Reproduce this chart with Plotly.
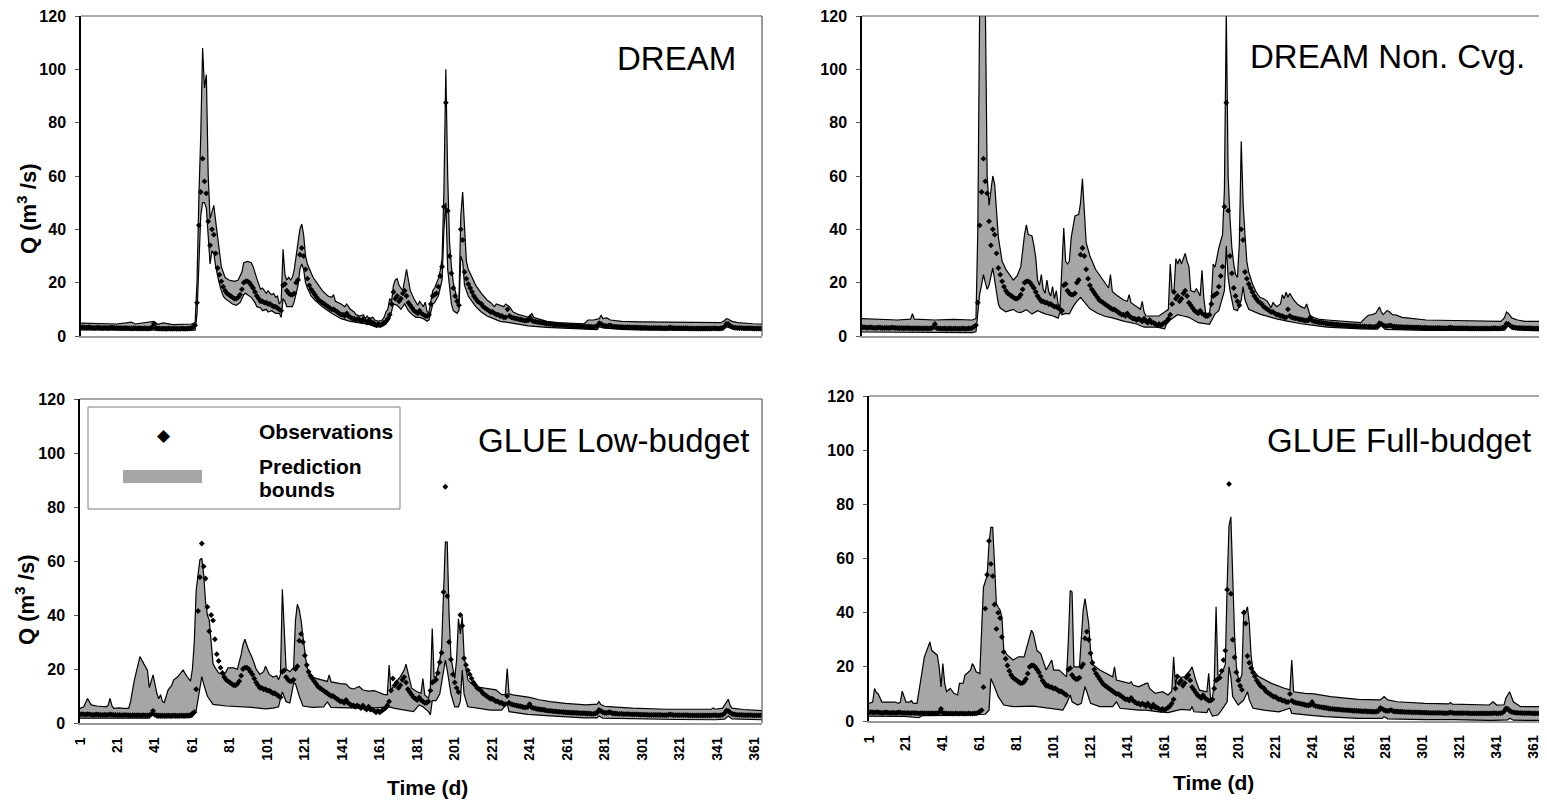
import plotly.graph_objects as go

# ---------------- data ----------------
obs_q = [
    3.2, 3.3, 3.2, 3.1, 3.3, 3.2, 3.1, 3.0, 3.1, 3.2, 3.1, 3.0, 3.0, 3.1, 3.0, 3.0, 3.2, 3.1, 3.0, 3.0,
    2.9, 3.0, 2.9, 2.9, 3.0, 2.9, 2.9, 2.8, 2.9, 2.9, 2.8, 2.9, 2.8, 2.8, 2.9, 2.8, 2.8, 2.9, 3.2, 4.5,
    3.0, 2.8, 2.8, 2.7, 2.8, 2.7, 2.7, 2.8, 2.7, 2.7, 2.8, 2.7, 2.7, 2.7, 2.8, 2.7, 2.7, 2.8, 2.8, 3.0,
    3.5, 4.0, 12.5, 41.5, 54.0, 66.5, 58.0, 53.5, 43.0, 34.0, 40.0, 38.0, 31.0, 25.5, 23.0, 20.5, 18.5, 17.0, 16.0, 15.5,
    15.0, 14.5, 14.0, 14.0, 14.5, 15.5, 17.5, 20.0, 20.5, 20.5, 20.0, 19.0, 18.0, 16.5, 15.0, 14.0, 13.0, 13.0, 12.5, 12.5,
    12.0, 12.0, 11.5, 11.0, 11.0, 10.5, 10.0, 9.5, 19.0, 19.5, 17.0, 16.0, 15.5, 15.5, 16.0, 20.0, 21.0, 30.5, 33.0, 30.0,
    25.0, 21.5, 19.0, 17.5, 16.5, 15.5, 14.5, 13.5, 13.0, 12.5, 12.0, 11.5, 11.0, 10.5, 10.0, 10.0, 9.5, 9.0, 8.5, 8.0,
    8.0, 7.5, 8.5, 7.5, 7.0, 6.5, 6.5, 6.0, 6.5, 6.0, 5.5, 6.5, 5.5, 5.0, 6.0, 5.0, 5.0, 4.5, 4.0, 4.5,
    4.0, 4.5, 5.0, 5.5, 6.5, 8.0, 12.0, 16.5, 14.0, 15.0, 13.0, 14.0, 16.0, 17.0, 15.0, 12.5, 11.5, 10.5, 9.5, 9.0,
    8.5, 9.5, 8.5, 8.0, 7.5, 7.5, 8.0, 12.0, 15.0, 15.5, 16.0, 18.5, 22.5, 26.0, 48.5, 87.5, 47.0, 30.0, 23.5, 18.0,
    15.0, 13.0, 11.5, 40.0, 36.0, 24.0, 21.5, 19.5, 18.0, 16.5, 15.0, 14.0, 13.0, 12.5, 12.0, 11.0, 10.5, 10.0, 9.5, 9.0,
    9.0, 8.5, 8.0, 8.0, 7.5, 7.5, 7.0, 7.0, 10.0, 7.5, 7.0, 6.8, 6.6, 6.5, 6.3, 6.2, 6.0, 5.8, 5.8, 5.9,
    7.0, 5.8, 5.5, 5.4, 5.2, 5.1, 5.0, 4.9, 4.8, 4.6, 4.5, 4.5, 4.4, 4.3, 4.3, 4.2, 4.1, 4.1, 4.0, 4.0,
    3.9, 3.9, 3.8, 3.8, 3.8, 3.7, 3.7, 3.6, 3.6, 3.6, 3.5, 3.5, 3.5, 3.4, 3.4, 3.5, 3.8, 4.8, 4.5, 4.0,
    3.8, 3.7, 3.9, 4.0, 3.6, 3.5, 3.5, 3.4, 3.4, 3.4, 3.3, 3.3, 3.3, 3.3, 3.2, 3.2, 3.2, 3.2, 3.2, 3.1,
    3.1, 3.1, 3.1, 3.0, 3.0, 3.0, 3.0, 3.0, 3.0, 3.0, 3.0, 2.9, 2.9, 2.9, 3.0, 3.2, 3.0, 2.9, 2.9, 2.9,
    2.9, 2.9, 2.9, 2.9, 2.9, 2.8, 2.8, 2.8, 2.8, 2.8, 2.8, 2.8, 2.8, 2.8, 2.8, 2.8, 2.8, 2.8, 2.9, 2.9,
    2.8, 2.8, 2.9, 3.0, 3.6, 4.6, 4.5, 3.8, 3.4, 3.2, 3.1, 3.0, 3.0, 3.0, 2.9, 2.9, 2.9, 2.9, 2.9, 2.8,
    2.8, 2.8, 2.8, 2.8, 2.8,
]
obs_day = list(range(1, len(obs_q) + 1))

# prediction bounds, (day, Q) vertices
dream_upper = [
    (1, 4.8), (10, 4.6), (20, 4.5), (25, 4.9), (28, 5.2), (30, 4.5), (40, 5.5), (42, 4.4), (45, 4.9), (50, 4.3),
    (60, 4.5), (62, 5.0), (63, 20), (64, 52), (65, 75), (66, 108), (67, 93), (68, 98), (69, 60), (70, 44),
    (71, 47), (72, 49), (73, 43), (74, 37), (75, 31), (76, 26), (77, 24), (78, 22), (80, 21), (83, 20.5),
    (85, 21), (87, 24), (88, 27.5), (90, 28), (92, 27.5), (93, 26), (95, 21.5), (96, 19), (97, 17.5), (98, 18),
    (99, 17), (100, 16), (101, 17), (102, 16), (103, 15.5), (104, 16), (105, 14.5), (106, 15), (107, 12), (108, 13),
    (109, 32.5), (110, 23), (111, 21), (112, 22), (113, 21), (114, 22), (115, 25), (116, 31), (117, 35), (118, 40),
    (119, 42), (120, 38), (121, 30), (122, 27), (123, 25.5), (124, 24), (125, 22), (127, 20), (130, 17), (133, 15),
    (135, 14.5), (136, 15.5), (137, 13), (140, 12), (142, 11), (143, 12), (145, 10), (147, 9), (148, 8), (150, 7.5),
    (152, 8), (153, 6.5), (154, 7.5), (155, 6.5), (157, 7), (158, 6), (160, 5.5), (162, 6), (163, 7), (164, 9),
    (165, 10), (166, 14), (167, 13), (168, 19), (169, 21), (170, 21.5), (171, 19), (172, 18), (173, 17), (174, 21),
    (175, 25), (176, 21), (177, 17), (179, 14), (181, 11.5), (182, 13), (183, 12), (184, 11), (185, 12.7), (186, 9),
    (187, 9), (188, 13), (189, 17), (190, 18), (191, 19.5), (192, 21.5), (193, 24.5), (194, 29), (195, 55), (196, 100),
    (197, 60), (198, 35), (199, 26), (200, 20), (201, 17), (202, 14), (203, 13), (204, 45), (205, 54), (206, 38),
    (207, 28), (208, 25), (210, 22), (212, 19), (215, 16), (218, 13.5), (220, 12.5), (222, 11), (223, 12), (225, 11.5),
    (227, 11), (228, 12), (230, 11), (232, 9), (235, 8), (238, 7.5), (240, 7), (242, 8.4), (243, 7), (245, 6.5),
    (250, 5.5), (255, 5), (260, 4.8), (265, 4.7), (270, 4.6), (272, 6), (275, 6), (278, 6.5), (279, 7.7), (280, 6.5),
    (282, 6.8), (284, 6), (290, 5.5), (300, 5.3), (310, 5.2), (320, 5.2), (330, 5), (340, 5), (343, 5), (345, 5.8),
    (346, 6.5), (347, 6.3), (349, 5.5), (352, 5), (355, 4.8), (360, 4.6), (365, 4.5),
]
dream_lower = [
    (1, 2.3), (20, 2.2), (40, 2.1), (60, 2.0), (62, 2.2), (63, 8), (64, 30), (65, 45), (66, 50), (67, 50),
    (68, 48), (69, 35), (70, 27), (71, 32), (72, 31), (73, 26), (74, 22), (75, 19.5), (76, 17), (77, 15),
    (78, 14), (80, 13), (82, 12), (84, 11.5), (86, 12.5), (88, 15.5), (89, 16), (90, 15.5), (92, 14.5), (94, 12.5),
    (95, 11), (97, 10.5), (98, 9.5), (100, 10), (101, 9), (103, 9.5), (105, 8.5), (107, 8.5), (108, 7), (109, 14),
    (110, 13), (111, 11), (114, 11), (115, 13), (116, 16), (117, 19), (118, 25), (119, 27), (120, 25), (121, 20),
    (122, 18), (124, 15), (126, 13.5), (130, 11), (135, 8.5), (140, 6.5), (145, 5.5), (150, 5), (155, 4.3), (158, 3.5),
    (160, 3.4), (162, 3.6), (164, 4.5), (166, 6.5), (167, 9), (168, 12), (170, 11.5), (172, 10), (174, 12), (176, 9.5),
    (178, 8), (180, 7), (182, 7), (184, 6.5), (186, 5.5), (187, 6), (188, 9), (189, 12), (190, 12.5), (192, 15),
    (193, 18), (194, 21), (195, 40), (196, 50), (197, 25), (198, 17), (199, 12), (200, 9.5), (201, 9), (202, 8.5),
    (203, 9.5), (204, 30), (205, 28), (206, 19), (207, 17), (208, 15), (210, 13), (212, 11), (215, 9), (218, 7.5),
    (220, 7), (222, 6.5), (225, 5.5), (230, 5), (235, 4.5), (240, 3.8), (250, 3.2), (260, 2.8), (270, 2.5), (277, 2.4),
    (278, 3.5), (280, 3), (290, 2.5), (300, 2.3), (320, 2.2), (340, 2.1), (344, 2.3), (346, 3.5), (348, 3), (350, 2.5),
    (365, 2.2),
]
noncvg_upper = [
    (1, 6.5), (10, 6.3), (20, 6.0), (27, 6.3), (28, 8.4), (29, 6.3), (40, 6.0), (50, 6.2), (60, 6.0), (62, 6.5),
    (63, 40), (64, 125), (65, 160), (66, 160), (67, 125), (68, 60), (69, 49), (70, 55), (71, 60), (72, 57),
    (73, 45), (74, 37), (76, 28), (78, 25), (80, 23), (82, 21), (84, 22.5), (86, 26), (88, 38), (89, 41.7),
    (90, 38), (92, 37.5), (93, 34), (94, 29.5), (95, 21), (96, 19), (97, 23), (98, 17.5), (99, 16), (100, 21),
    (101, 16.5), (102, 15), (103, 18.5), (104, 14), (105, 17), (106, 12), (107, 11), (108, 28), (109, 40.5), (110, 28),
    (111, 27), (112, 28), (113, 37), (114, 41), (115, 45), (117, 45.5), (118, 50), (119, 59), (120, 45), (121, 35),
    (123, 30), (126, 25), (130, 21), (133, 18), (134, 23), (135, 16.7), (137, 15.5), (139, 14.5), (141, 13.5), (143, 13),
    (144, 15.5), (145, 12.5), (148, 11), (150, 10), (151, 13), (152, 9), (153, 7.5), (158, 7.5), (160, 7.5), (163, 9),
    (165, 10), (166, 27), (167, 16.7), (168, 17), (169, 29), (170, 27), (171, 29), (172, 27), (174, 31), (175, 28),
    (176, 26), (177, 17), (179, 16.5), (180, 17.8), (182, 15), (183, 24.6), (184, 14), (185, 8.5), (187, 8.5), (188, 14),
    (189, 27), (190, 25.8), (192, 33), (194, 38), (195, 55), (196, 122), (197, 60), (198, 44), (199, 33), (200, 27),
    (201, 23), (202, 22), (203, 35), (204, 73), (205, 50), (206, 38), (207, 28), (208, 24), (210, 19.5), (212, 16.5),
    (214, 14.5), (216, 14), (218, 13), (220, 10.6), (221, 12.5), (223, 11), (225, 12), (226, 15.5), (227, 14), (228, 16.4),
    (229, 14.5), (230, 16), (232, 13.6), (234, 12), (236, 11), (238, 10.4), (239, 12), (241, 7.4), (243, 7), (246, 6.2),
    (250, 6), (257, 5.6), (265, 5.2), (268, 5), (270, 6.5), (272, 7.8), (274, 8), (276, 8.5), (278, 10.9), (279, 9),
    (280, 8), (282, 9.5), (283, 9.3), (285, 8), (287, 7.8), (290, 7), (295, 6.6), (303, 6), (310, 5.9), (320, 5.8),
    (330, 5.6), (339, 5.5), (343, 5.5), (345, 7), (346, 9), (347, 8.5), (349, 6.7), (352, 6), (356, 5.5), (365, 5.5),
]
noncvg_lower = [
    (1, 1.5), (20, 1.4), (40, 1.3), (60, 1.3), (62, 1.6), (63, 8), (64, 15.8), (65, 19), (66, 23), (67, 20),
    (68, 17.5), (69, 19), (70, 22), (71, 25.5), (72, 21), (73, 17), (74, 12), (75, 10.5), (78, 9.1), (80, 9.5),
    (82, 10), (84, 9), (86, 8.8), (89, 9.9), (92, 8.2), (95, 9.5), (99, 8.3), (103, 7.6), (106, 6.7), (107, 9),
    (108, 8), (110, 8.5), (112, 8.3), (114, 11), (116, 13), (118, 14.5), (120, 12.6), (123, 10.2), (127, 8.5), (131, 7.4),
    (135, 6.8), (141, 5.6), (148, 4.5), (152, 3.3), (159, 3.3), (163, 2.7), (164, 4.5), (166, 6), (168, 7), (170, 8),
    (173, 7.5), (176, 7), (181, 5), (185, 4.5), (187, 4.4), (190, 8.3), (192, 9.5), (195, 17), (196, 33.7), (197, 22),
    (198, 17), (200, 10), (202, 9.5), (204, 13.5), (205, 18.5), (206, 13.6), (208, 10), (214, 8.2), (223, 6.4), (228, 5.7),
    (236, 4.6), (243, 4), (250, 3.3), (268, 2.7), (277, 2.6), (279, 4), (281, 2.5), (304, 2.1), (340, 2.0), (345, 2.2),
    (347, 4.0), (349, 2.6), (356, 2.1), (365, 2.0),
]
glue_low_upper = [
    (1, 5.4), (3, 6), (5, 9.1), (7, 6.7), (10, 6.3), (12, 6.2), (15, 6.0), (16, 6.5), (17, 9.1), (18, 6.5),
    (19, 5.4), (22, 5.6), (24, 5.4), (27, 5.4), (28, 8), (30, 15.9), (33, 24.6), (35, 22), (37, 19.6), (38, 13.1),
    (40, 17.8), (42, 11), (43, 9), (44, 10.5), (45, 8), (46, 7.6), (48, 12.2), (50, 14), (51, 16), (53, 17),
    (55, 19), (56, 19.6), (57, 18.5), (58, 17.3), (60, 15.5), (61, 20), (62, 30), (63, 49), (64, 55), (65, 60.4),
    (66, 61), (67, 55), (68, 45), (69, 40), (70, 38), (71, 30), (72, 22), (73, 20.6), (75, 18.5), (78, 17.9),
    (80, 20.4), (83, 20.4), (85, 19.9), (87, 25.3), (88, 29), (89, 31), (91, 27), (93, 24), (95, 20), (97, 18),
    (99, 19), (100, 21), (102, 18), (104, 17), (106, 17.5), (107, 16), (108, 18), (109, 49.5), (110, 35), (111, 20),
    (113, 19), (115, 20.5), (116, 38), (117, 44), (118, 42), (119, 38), (120, 32), (121, 26), (122, 21), (123, 19),
    (124, 18), (126, 16.7), (130, 15.8), (133, 15.4), (134, 17.8), (135, 15.2), (140, 14.6), (143, 14.4), (145, 13), (147, 12.6),
    (150, 13.5), (152, 12.2), (155, 11.8), (158, 12), (160, 11.5), (163, 10.6), (165, 10.4), (166, 21.5), (167, 12), (169, 14.6),
    (172, 17.2), (174, 19.6), (175, 21.8), (176, 18.5), (178, 12.9), (181, 11.6), (183, 11), (184, 16.5), (185, 10.4), (187, 9.1),
    (188, 13), (189, 35), (190, 17), (191, 17), (193, 23), (194, 28), (195, 48), (196, 67), (197, 67), (198, 40),
    (199, 24), (201, 16.5), (202, 23.5), (203, 38.6), (204, 33), (205, 39.5), (206, 25), (207, 19.6), (208, 16), (210, 14.5),
    (212, 13.5), (217, 12.9), (223, 12.3), (226, 10.5), (228, 10.5), (229, 20.2), (230, 10.8), (232, 10.4), (236, 10), (241, 9.5),
    (246, 8.6), (252, 7.9), (260, 7.3), (271, 6.7), (277, 7), (278, 7.9), (279, 6.8), (281, 6.2), (285, 6), (296, 5.5),
    (314, 5.1), (332, 5.1), (338, 5.1), (339, 5.6), (340, 5.1), (344, 5.5), (346, 7.5), (347, 8.8), (348, 6.5), (349, 5.5),
    (355, 5), (365, 4.6),
]
glue_low_lower = [
    (1, 1.8), (20, 1.8), (38, 1.8), (40, 3.5), (42, 1.9), (60, 2.0), (61, 2.3), (63, 4.5), (64, 8.5), (66, 17.2),
    (67, 14.4), (69, 9.9), (72, 6.9), (79, 6.3), (93, 5.8), (100, 5.2), (104, 5.5), (107, 6), (108, 9), (109, 11.5),
    (111, 7.9), (113, 7.4), (115, 14.7), (116, 14.5), (118, 10), (120, 6.3), (125, 5.8), (131, 6), (133, 7.8), (135, 5.8),
    (155, 5.4), (165, 5.8), (166, 6), (169, 5.4), (174, 4.8), (179, 4.2), (182, 6.7), (184, 6), (187, 4.2), (188, 3),
    (189, 8.3), (191, 8.3), (193, 10.7), (195, 19.6), (196, 23.3), (197, 19.6), (199, 10.7), (201, 6), (203, 6), (204, 8),
    (205, 19.6), (206, 10.7), (208, 6), (214, 5.4), (220, 4.8), (226, 4.8), (229, 7.2), (230, 4.2), (235, 3.6), (240, 3.2),
    (250, 2.7), (260, 2.3), (270, 1.9), (277, 1.9), (278, 2.6), (280, 1.8), (300, 1.5), (320, 1.3), (340, 1.2), (345, 1.4),
    (347, 2.6), (349, 1.5), (365, 1.2),
]
glue_full_upper = [
    (1, 6.5), (3, 7), (4, 12), (5, 10.5), (6, 10), (8, 7), (15, 7), (17, 6.5), (18, 7), (19, 11),
    (20, 9), (21, 7), (23, 7), (24, 7.5), (25, 6.5), (27, 6.5), (29, 15), (31, 23.7), (34, 29.2), (35, 26),
    (38, 24.3), (39, 20), (40, 12.6), (41, 21.2), (42, 13.9), (43, 10.8), (45, 12), (47, 10.2), (49, 9.6), (50, 13.9),
    (52, 14), (53, 17), (56, 18.8), (57, 21.2), (58, 20), (59, 18.2), (61, 17.5), (62, 37.2), (63, 49.4), (65, 53.7),
    (66, 65.4), (67, 71.5), (68, 71.5), (69, 58), (70, 43.3), (71, 42), (72, 41), (73, 38.4), (74, 26), (76, 24.3),
    (79, 22.5), (82, 23.7), (85, 23.7), (87, 28.6), (89, 33.5), (90, 32.3), (92, 26), (94, 24.9), (97, 18.8), (100, 22.5),
    (101, 18.8), (104, 18.8), (106, 17.5), (108, 16.3), (109, 30), (110, 48.2), (111, 47.6), (112, 20), (115, 20), (116, 30),
    (117, 40.9), (118, 45.2), (120, 36), (121, 26), (122, 21), (126, 18.8), (133, 16.3), (134, 20), (135, 15.1), (142, 13.9),
    (143, 14.5), (144, 13.3), (147, 12.6), (151, 13.9), (152, 14), (153, 12), (156, 10.2), (160, 10.8), (163, 9.6), (165, 11),
    (166, 23.7), (167, 13), (168, 17), (170, 16), (172, 16.4), (175, 18.8), (176, 20), (178, 15.1), (180, 11.4), (184, 10.8),
    (185, 17.6), (186, 8.4), (187, 8.4), (188, 14), (189, 42.2), (190, 17), (191, 17), (193, 19), (194, 21), (195, 50),
    (196, 72), (197, 75.4), (198, 50), (199, 32), (200, 20), (201, 16), (202, 15.5), (203, 17), (204, 41), (205, 40),
    (206, 42.2), (207, 36), (208, 23.8), (209, 18.8), (212, 16.4), (219, 13.9), (226, 12.1), (229, 11.5), (230, 22.5), (231, 10.8),
    (237, 10.2), (242, 10), (251, 9), (266, 8), (278, 7.8), (280, 9), (282, 7.8), (287, 7.1), (302, 6.5), (315, 6.3),
    (316, 6.8), (317, 6.2), (337, 5.9), (339, 7.1), (341, 5.9), (345, 6), (346, 8.5), (348, 10.8), (350, 7.1), (354, 5.3),
    (365, 5.3),
]
glue_full_lower = [
    (1, 1.8), (20, 1.7), (28, 1.2), (30, 2), (45, 2.1), (60, 2.2), (64, 2.5), (66, 4), (67, 15.7), (69, 12.6),
    (71, 9), (74, 5.9), (79, 5.3), (90, 5.5), (100, 4.7), (106, 4), (108, 6.5), (110, 9.6), (111, 7.1), (114, 5.9),
    (116, 6.5), (118, 12.7), (119, 10.8), (121, 6.5), (126, 5.3), (133, 5.3), (135, 7.1), (137, 4.7), (147, 4), (151, 4),
    (158, 3.4), (163, 3.1), (170, 4.3), (175, 4), (176, 5.3), (177, 3.4), (184, 3.1), (185, 4.7), (187, 1.8), (190, 2.2),
    (192, 4), (195, 7.1), (196, 20), (197, 16.4), (198, 9), (201, 5.9), (204, 7.8), (206, 10.8), (207, 7.8), (209, 4.7),
    (215, 4), (223, 3.4), (229, 4.7), (230, 2.8), (239, 2.2), (248, 1.6), (266, 1.0), (279, 1.0), (280, 1.6), (282, 0.8),
    (302, 0.5), (316, 0.7), (318, 0.5), (338, 0.2), (347, 0.4), (348, 1.0), (350, 0.3), (365, 0.2),
]

panel_titles = ["DREAM", "DREAM Non. Cvg.", "GLUE Low-budget", "GLUE Full-budget"]
x_ticks = list(range(1, 362, 20))
y_ticks = [0, 20, 40, 60, 80, 100, 120]

# ---------------- layout helpers ----------------
# the page body has an 8 px margin, so the figure starts 8 px in from the window corner
OFF = 8
W, H = 1547 - OFF, 803 - OFF
FONT = "Liberation Sans, Arial, sans-serif"
BAND = "#a6a6a6"


def px(x):
    return (x - OFF) / W


def py(y):
    return 1 - (y - OFF) / H


# plot-area pixel boxes in window pixels: (left, right, top, bottom)
boxes = [(81, 762, 16, 336), (862, 1542, 16, 336), (80, 762, 399, 723), (869, 1541, 396, 721)]
bounds = [(dream_upper, dream_lower), (noncvg_upper, noncvg_lower),
          (glue_low_upper, glue_low_lower), (glue_full_upper, glue_full_lower)]

fig = go.Figure()
layout = dict(width=W, height=H, margin=dict(l=0, r=0, t=0, b=0, autoexpand=False), showlegend=False,
              plot_bgcolor="white", paper_bgcolor="white", font=dict(family=FONT, color="black"))
shapes, annotations = [], []

for i, ((l, r, t, b), (up, lo)) in enumerate(zip(boxes, bounds)):
    n = "" if i == 0 else str(i + 1)
    xa, ya = "x" + n, "y" + n
    ud, uq = [p[0] for p in up], [p[1] for p in up]
    ld, lq = [p[0] for p in lo], [p[1] for p in lo]
    fig.add_trace(go.Scatter(x=ud + ld[::-1], y=uq + lq[::-1], fill="toself", fillcolor=BAND,
                             mode="lines", line=dict(width=0, color="rgba(0,0,0,0)"),
                             hoverinfo="skip", xaxis=xa, yaxis=ya))
    fig.add_trace(go.Scatter(x=ud, y=uq, mode="lines", line=dict(color="black", width=1.2),
                             xaxis=xa, yaxis=ya))
    fig.add_trace(go.Scatter(x=ld, y=lq, mode="lines", line=dict(color="black", width=1.2),
                             xaxis=xa, yaxis=ya))
    fig.add_trace(go.Scatter(x=obs_day, y=obs_q, mode="markers",
                             marker=dict(symbol="diamond", size=4.5, color="black", line=dict(width=0)),
                             xaxis=xa, yaxis=ya))
    bottom = i >= 2
    layout["xaxis" + n] = dict(domain=[px(l), px(r)], anchor=ya, range=[1, 365], automargin=False,
                               showgrid=False, zeroline=False, showline=True,
                               linecolor="#9a9a9a", linewidth=1.5, ticklabeloverflow="allow",
                               tickmode="array", tickvals=x_ticks, ticktext=[str(v) for v in x_ticks],
                               showticklabels=bottom, ticks="", tickangle=-90, ticklabelstandoff=7,
                               tickfont=dict(family=FONT, size=14, color="black", weight="bold"))
    layout["yaxis" + n] = dict(domain=[py(b), py(t)], anchor=xa, range=[0, 120], automargin=False,
                               showgrid=False, zeroline=False, showline=True,
                               linecolor="black", linewidth=1.5, ticklabeloverflow="allow",
                               tickmode="array", tickvals=y_ticks, ticks="outside", ticklen=4,
                               tickcolor="#555", tickwidth=1, ticklabelstandoff=6,
                               tickfont=dict(family=FONT, size=16, color="black", weight="bold"))
    # top and right frame lines
    shapes.append(dict(type="line", xref="paper", yref="paper", x0=px(l), x1=px(r), y0=py(t), y1=py(t),
                       line=dict(color="#555", width=1.2)))
    shapes.append(dict(type="line", xref="paper", yref="paper", x0=px(r), x1=px(r), y0=py(t), y1=py(b),
                       line=dict(color="#555", width=1.2)))

# panel titles
title_pos = [(738, 59), (1527, 57), (752, 440), (1533, 440)]
for txt, (x, y) in zip(panel_titles, title_pos):
    annotations.append(dict(text=txt, x=px(x), y=py(y), xref="paper", yref="paper",
                            xanchor="right", yanchor="middle", showarrow=False,
                            font=dict(family=FONT, size=33, color="black")))

# y titles
for (x, y) in [(27, 209), (25, 600)]:
    annotations.append(dict(text="Q (m<sup>3</sup> /s)", x=px(x), y=py(y), xref="paper", yref="paper",
                            textangle=-90, showarrow=False, xanchor="center", yanchor="middle",
                            font=dict(family=FONT, size=22, color="black", weight="bold")))
# x titles
for (x, y) in [(427, 787), (1213, 782)]:
    annotations.append(dict(text="Time (d)", x=px(x), y=py(y), xref="paper", yref="paper",
                            showarrow=False, xanchor="center", yanchor="middle",
                            font=dict(family=FONT, size=21, color="black", weight="bold")))

# legend box
shapes.append(dict(type="rect", xref="paper", yref="paper", x0=px(88), x1=px(400), y0=py(509), y1=py(407),
                   line=dict(color="#7f7f7f", width=1), fillcolor="white", layer="above"))
shapes.append(dict(type="rect", xref="paper", yref="paper", x0=px(123), x1=px(202), y0=py(483), y1=py(470),
                   line=dict(width=0), fillcolor=BAND, layer="above"))
annotations.append(dict(text="◆", x=px(164), y=py(435), xref="paper", yref="paper", showarrow=False,
                        xanchor="center", yanchor="middle", font=dict(family="DejaVu Sans", size=17, color="black")))
for txt, y in [("Observations", 431), ("Prediction", 466), ("bounds", 489)]:
    annotations.append(dict(text=txt, x=px(257), y=py(y), xref="paper", yref="paper", showarrow=False,
                            xanchor="left", yanchor="middle",
                            font=dict(family=FONT, size=21, color="black", weight="bold")))

layout["shapes"] = shapes
layout["annotations"] = annotations
fig.update_layout(**layout)
fig.write_html("out.html")
